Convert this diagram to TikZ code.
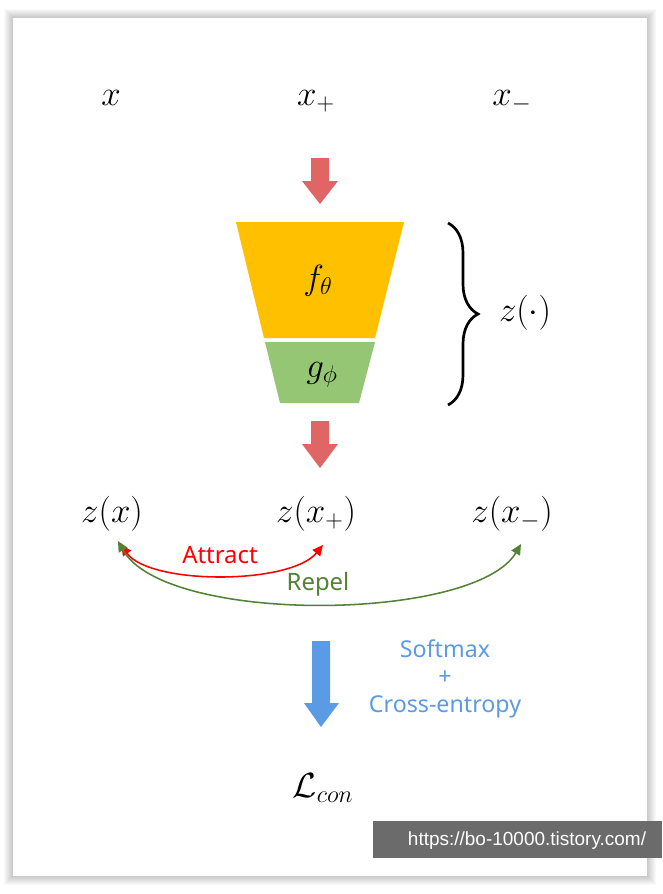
\documentclass[tikz,border=0pt]{standalone}
\usepackage{fontspec}
\setsansfont{Noto Sans}
\newfontfamily\urlfont{Liberation Sans}
\usetikzlibrary{arrows.meta,positioning,calc,decorations.pathreplacing}
\definecolor{FlowRed}{HTML}{E06666}
\definecolor{EncYellow}{HTML}{FFC000}
\definecolor{ProjGreen}{HTML}{94C674}
\definecolor{PullRed}{HTML}{FF0000}
\definecolor{PushGreen}{HTML}{548235}
\definecolor{LossBlue}{HTML}{5B9BE6}
\definecolor{MarkGray}{HTML}{6B6B6B}
\tikzset{>={Triangle[length=7.5pt,width=7pt]},
 mathlbl/.style={inner sep=0pt,font=\fontsize{24}{28}\selectfont},
 sanslbl/.style={inner sep=0pt,font=\sffamily\fontsize{17}{20}\selectfont},
 pairarc/.style={line width=1.1pt,<->}}

\begin{document}
\begin{tikzpicture}[x=0.025cm,y=-0.025cm]
\useasboundingbox (0,0) rectangle (663,894);
\fill[white] (0,0) rectangle (663,894);
\foreach \d in {1,...,9}\fill[black,opacity=.025] (13-\d,18-\d) rectangle (647+\d,876+\d);
\fill[white] (13,18) rectangle (647,876);
% inputs
\node[mathlbl,anchor=base] (x) at (111,105) {$x$};
\node[mathlbl,anchor=base] (xp) at (316,105) {$x_+$};
\node[mathlbl,anchor=base] (xn) at (512,105) {$x_-$};
\fill[FlowRed] (311,158)--++(18,0)--++(0,23)--++(9,0)--(320,204)--(302,181)--++(9,0)--cycle;
% encoder and projection head
\fill[EncYellow] (236,222)--(404,222)--(375,338)--(264,338)--cycle;
\fill[ProjGreen] (265,342)--(375,342)--(359,403)--(280,403)--cycle;
\node[mathlbl] (enc) at (318,281) {$f_\theta$};
\node[mathlbl] (proj) at (322,375) {$g_\phi$};
\draw[line width=1.9pt,decorate,decoration={brace,amplitude=0.75cm}] (448,223)--(448,405);
\node[mathlbl] (zdot) at (525,313) {$z(\cdot)$};
\fill[FlowRed] (311,421)--++(18,0)--++(0,23)--++(9,0)--(320,468)--(302,444)--++(9,0)--cycle;
% embeddings
\node[mathlbl,anchor=base] (zx) at (112,522) {$z(x)$};
\node[mathlbl,anchor=base] (zp) at (316,522) {$z(x_+)$};
\node[mathlbl,anchor=base] (zn) at (512,522) {$z(x_-)$};
\coordinate (zxa) at ($(zx.south)+(9,14)$);
\coordinate (zxr) at ($(zx.south)+(6,10)$);
\coordinate (zpa) at ($(zp.south)+(7,14)$);
\coordinate (znr) at ($(zn.south)+(9,13)$);
\draw[pairarc,PullRed] (zxa) .. controls (150,585) and (290,585) .. (zpa);
\draw[pairarc,PushGreen] (zxr) .. controls (165,625) and (475,622) .. (znr);
\node[sanslbl,anchor=base,text=PullRed] (att) at (220,563) {Attract};
\node[sanslbl,anchor=base,text=PushGreen] (rep) at (318,590) {Repel};
% loss
\fill[LossBlue] (312,641)--++(18,0)--++(0,62)--++(9,0)--(321,727)--(304,703)--++(8,0)--cycle;
\node[sanslbl,anchor=north,align=center,text=LossBlue,
 font=\sffamily\fontsize{16.5}{19.6}\selectfont] (sm) at (445,639) {Softmax\\+\\Cross-entropy};
\node[mathlbl] (loss) at (323,788) {$\mathcal{L}_{con}$};
% watermark
\fill[MarkGray] (373,821) rectangle (662,858);
\node[inner sep=0pt,text=white,font=\urlfont\fontsize{13.5}{16}\selectfont] (wm) at (527,841) {https://bo-10000.tistory.com/};
\end{tikzpicture}
\end{document}
